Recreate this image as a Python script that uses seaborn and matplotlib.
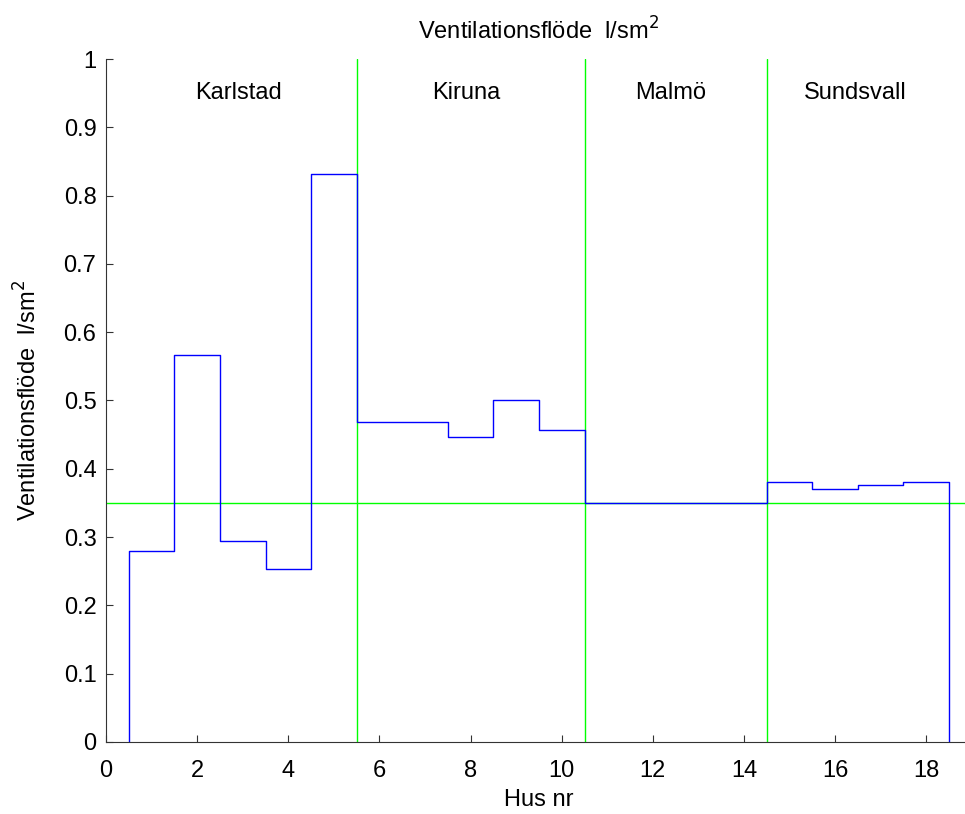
import numpy as np
import pandas as pd
import matplotlib
matplotlib.use("Agg")
import matplotlib.pyplot as plt
import seaborn as sns

# ventilation flow per house (l/s m2)
houses = list(range(1, 19))
flow = [0.279, 0.566, 0.294, 0.253, 0.832,
        0.469, 0.469, 0.446, 0.501, 0.457,
        0.350, 0.350, 0.350, 0.350,
        0.381, 0.370, 0.376, 0.381]
cities = ["Karlstad", "Kiruna", "Malmö", "Sundsvall"]
city_pos = [2.9, 7.9, 12.4, 16.45]
city_borders = [5.5, 10.5, 14.5]
limit = 0.35

sns.set_style("ticks")
plt.rcParams["font.family"] = ["Liberation Sans", "DejaVu Sans"]
plt.rcParams["xtick.direction"] = "in"
plt.rcParams["ytick.direction"] = "in"
plt.rcParams["text.color"] = "black"
plt.rcParams["axes.labelcolor"] = "black"
plt.rcParams["xtick.labelcolor"] = "black"
plt.rcParams["ytick.labelcolor"] = "black"

# outline of the bars (stairs from edge to edge, down to zero at both ends)
edges_x = [houses[0] - 0.5]
edges_y = [0.0]
for h, v in zip(houses, flow):
    edges_x += [h - 0.5, h + 0.5]
    edges_y += [v, v]
edges_x.append(houses[-1] + 0.5)
edges_y.append(0.0)
df = pd.DataFrame({"x": edges_x, "y": edges_y})

fig = plt.figure(figsize=(9.65, 8.14), dpi=100)
ax = fig.add_axes([0.110, 0.0885, 0.897, 0.839])

for b in city_borders:
    ax.plot([b, b], [0, 1], color="#00ff00", lw=1.0, zorder=1)
ax.axhline(limit, color="#00ff00", lw=1.0, zorder=1)

sns.lineplot(data=df, x="x", y="y", sort=False, estimator=None,
             color="#0000ff", lw=1.0, ax=ax, zorder=2)

for name, pos in zip(cities, city_pos):
    ax.text(pos, 0.95, name, ha="center", va="center", fontsize=17)

ax.set_xlim(0, 19)
ax.set_ylim(0, 1)
ax.set_xticks(range(0, 19, 2))
ax.set_yticks(np.round(np.arange(0, 1.01, 0.1), 1))
ax.set_yticklabels(["0"] + [f"{t:.1f}" for t in np.arange(0.1, 0.95, 0.1)] + ["1"])
ax.tick_params(axis="both", labelsize=17, length=5, width=0.8, color="#333333")
ax.tick_params(axis="x", pad=13)
ax.tick_params(axis="y", pad=7)
ax.set_xlabel("Hus nr", fontsize=17, labelpad=5)
ax.set_ylabel("Ventilationsflöde  l/sm$^2$", fontsize=17, labelpad=16)
ax.set_title("Ventilationsflöde  l/sm$^2$", fontsize=17, pad=14)
sns.despine(ax=ax)
for s in ["left", "bottom"]:
    ax.spines[s].set_color("#333333")
    ax.spines[s].set_linewidth(0.8)

fig.savefig("out.png", dpi=100)
